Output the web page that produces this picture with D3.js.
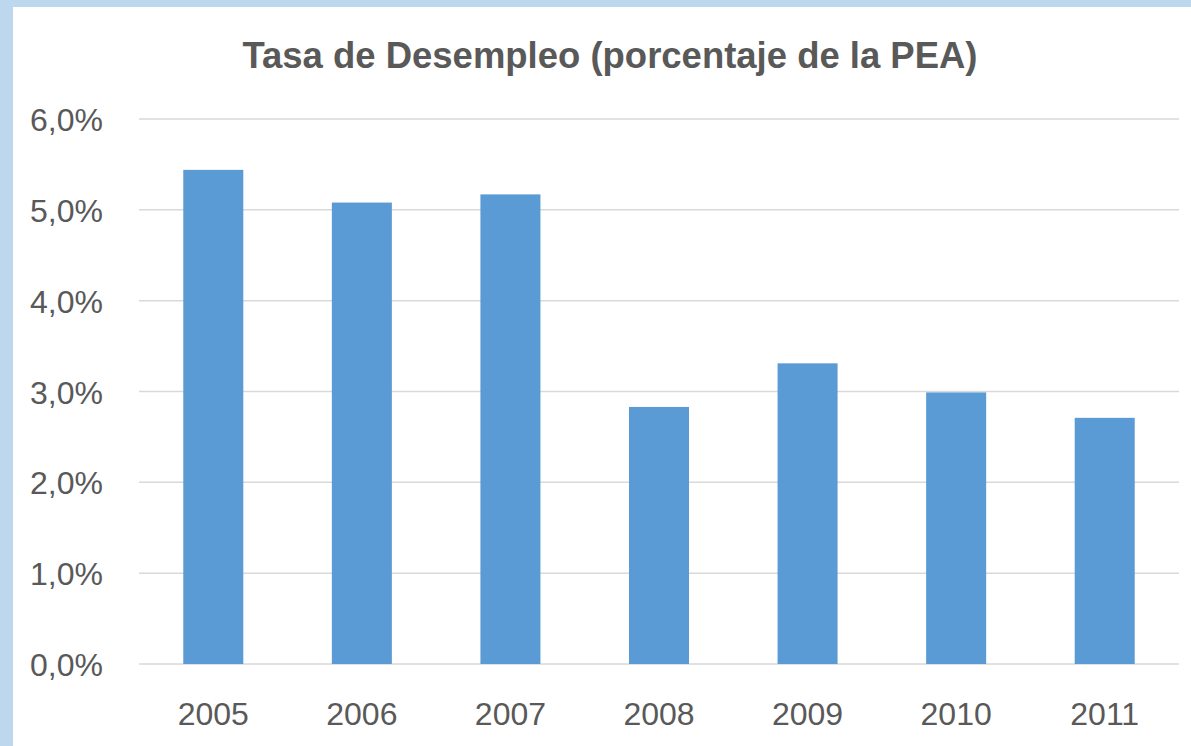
<!DOCTYPE html>
<html><head><meta charset="utf-8">
<script src="https://cdn.jsdelivr.net/npm/d3@7"></script>
<style>
html,body{margin:0;padding:0;background:#fff;}
svg{display:block;}
</style></head>
<body>
<script>
const title = "Tasa de Desempleo (porcentaje de la PEA)";
const years = ["2005","2006","2007","2008","2009","2010","2011"];
const rates = [5.44, 5.08, 5.17, 2.83, 3.31, 2.99, 2.71];
const yTicks = [0,1,2,3,4,5,6];

(function(){
const W = 1191, H = 746;
const svg = d3.select("body").append("svg").attr("width", W).attr("height", H);

// light blue frame (top and left)
svg.append("rect").attr("x",0).attr("y",0).attr("width",W).attr("height",H).attr("fill","#BDD7EE");
svg.append("rect").attr("x",13).attr("y",7).attr("width",W-13).attr("height",H-7).attr("fill","#fff");

const mLeft = 139, mRight = 1179, mTop = 119, mBottom = 664;
const x = d3.scaleBand().domain(years).range([mLeft, mRight]).paddingInner(0.596).paddingOuter(0.298);
const y = d3.scaleLinear().domain([0,6]).range([mBottom, mTop]);

const font = "'Liberation Sans', Arial, sans-serif";
const txt = "#595959";

// gridlines
svg.append("g").selectAll("line").data(yTicks).join("line")
  .attr("x1", mLeft).attr("x2", mRight)
  .attr("y1", d=>y(d)).attr("y2", d=>y(d))
  .attr("stroke", "#D9D9D9").attr("stroke-width", 1.5);

// y axis labels via d3 axis
const yAxis = d3.axisLeft(y).tickValues(yTicks).tickSize(0).tickPadding(0)
  .tickFormat(d => d3.format(".1f")(d).replace(".", ",") + "%");
const gy = svg.append("g").attr("transform", `translate(${103},0)`).call(yAxis);
gy.select(".domain").remove();
gy.selectAll("text").attr("fill", txt).style("font-family", font).style("font-size","32px").attr("dy","0.36em");

// bars
svg.append("g").selectAll("rect").data(rates).join("rect")
  .attr("x", (d,i)=>x(years[i]))
  .attr("width", x.bandwidth())
  .attr("y", d=>y(d))
  .attr("height", d=>y(0)-y(d))
  .attr("fill", "#5B9BD5");

// x axis labels
const xAxis = d3.axisBottom(x).tickSize(0).tickPadding(0);
const gx = svg.append("g").attr("transform", `translate(0,${725})`).call(xAxis);
gx.select(".domain").remove();
gx.selectAll("text").attr("fill", txt).attr("dy", 0).attr("y", 0).style("font-family", font).style("font-size","32px");

// title
const t = svg.append("text").attr("x", 610).attr("y", 68).attr("text-anchor","middle")
  .attr("fill", txt).style("font-family", font).style("font-weight","bold").style("font-size","36px").text(title);
const len = t.node().getComputedTextLength();
t.style("font-size", (36*735/len).toFixed(2) + "px");
})();
</script>
</body></html>
